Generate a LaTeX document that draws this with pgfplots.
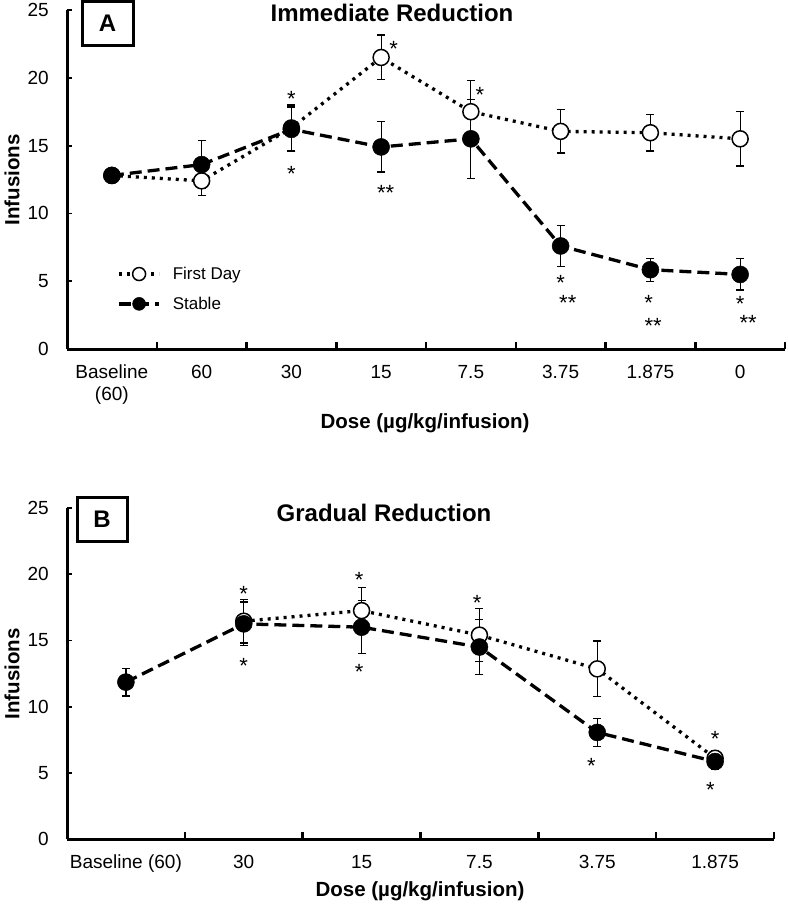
\documentclass[border=0pt]{standalone}
\usepackage{pgfplots}
\usepackage{pgfplotstable}
\pgfplotsset{compat=1.18}
\usepackage{fontspec}
\setmainfont{Liberation Sans}

\pgfplotstableread{
x y e
0 12.8 0
1 12.4 1.1
2 16.3 1.7
3 21.5 1.65
4 17.5 2.3
5 16.05 1.6
6 15.95 1.35
7 15.5 2.0
}\fdA
\pgfplotstableread{
x y e
0 12.8 0
1 13.6 1.75
2 16.2 1.65
3 14.9 1.85
4 15.5 2.9
5 7.6 1.5
6 5.85 0.85
7 5.5 1.15
}\stA
\pgfplotstableread{
x y e
1 16.45 1.65
2 17.25 1.75
3 15.4 2.0
4 12.85 2.1
5 6.1 0.55
}\fdB
\pgfplotstableread{
x y e
0 11.85 1.05
1 16.25 1.65
2 16.0 2.0
3 14.5 2.1
4 8.05 1.05
5 5.85 0.6
}\stB

\tikzset{ast/.style={font=\fontsize{22}{24}\selectfont, inner sep=0pt, yshift=-5pt}}
\pgfplotsset{
  panel/.style={
    scale only axis, clip=false,
    axis x line*=bottom, axis y line*=left,
    axis line style={line width=3pt, black},
    ymin=0, ymax=25, ytick={0,5,...,25},
    xmin=-0.5,
    /pgf/number format/assume math mode=true,
    tick label style={font=\fontsize{19}{22}\selectfont},
    tick align=inside, major tick length=5pt,
    ytick style={line width=1.8pt, black},
    xtick style={draw=none},
    yticklabel style={inner sep=0pt, xshift=-18pt},
    xticklabel style={inner sep=0pt, yshift=-16pt, align=center},
    extra x tick labels={},
    extra x tick style={xtick style={draw=black, line width=2.5pt}, major tick length=7pt},
    legend image code/.code={\draw[mark repeat=2,mark phase=2,#1, mark size=6.5pt] plot coordinates {(0pt,0pt) (20pt,0pt) (40pt,0pt)};},
  },
  fd/.style={black, line width=3.3pt, dash pattern=on 3pt off 5pt, line cap=butt,
    mark=*, mark size=8pt, mark options={solid, line width=1.5pt, fill=white, draw=black},
    error bars/.cd, y dir=both, y explicit,
    error bar style={line width=1.2pt, solid, line cap=butt},
    error mark options={rotate=90, mark size=4pt, line width=1.2pt, solid}},
  st/.style={black, line width=3.3pt, dash pattern=on 12pt off 6pt, line cap=butt,
    mark=*, mark size=8.5pt, mark options={solid, line width=0.5pt, fill=black, draw=black},
    error bars/.cd, y dir=both, y explicit,
    error bar style={line width=1.2pt, solid, line cap=butt},
    error mark options={rotate=90, mark size=4pt, line width=1.2pt, solid}},
}

\begin{document}
\begin{tikzpicture}
\path[use as bounding box] (0pt,0pt) rectangle (788pt,-905pt);

% Panel A
\begin{axis}[panel, at={(67pt,-349pt)}, anchor=south west,
  width=718pt, height=339pt, xmax=7.5,
  xtick={0,...,7},
  xticklabels={{Baseline\\(60)},60,30,15,7.5,3.75,1.875,0},
  extra x ticks={-0.5,0.5,...,7.5},
  legend style={draw=none, fill=none, font=\fontsize{17}{20}\selectfont,
    at={(axis cs:0.06,6.2)}, anchor=north west, row sep=12pt, inner sep=0pt,
    /tikz/every odd column/.append style={column sep=10pt}},
  legend cell align=left,
]
\addplot[fd] table[x=x,y=y,y error=e] {\fdA};
\addlegendentry{First Day}
\addplot[st] table[x=x,y=y,y error=e] {\stA};
\addlegendentry{Stable}
\node[ast] at (axis cs:2,18.8) {*};
\node[ast] at (axis cs:2,13.3) {*};
\node[ast] at (axis cs:3.14,22.5) {*};
\node[ast] at (axis cs:3.05,11.9) {**};
\node[ast] at (axis cs:4.1,19.1) {*};
\node[ast] at (axis cs:5.0,5.25) {*};
\node[ast] at (axis cs:5.08,3.8) {**};
\node[ast] at (axis cs:5.98,3.75) {*};
\node[ast] at (axis cs:6.03,2.1) {**};
\node[ast] at (axis cs:7.0,3.7) {*};
\node[ast] at (axis cs:7.09,2.3) {**};
\end{axis}

% Panel B
\begin{axis}[panel, at={(67pt,-839pt)}, anchor=south west,
  width=707pt, height=331pt, xmax=5.5,
  xtick={0,...,5},
  xticklabels={Baseline (60),30,15,7.5,3.75,1.875},
  extra x ticks={-0.5,0.5,...,5.5},
]
\addplot[fd] table[x=x,y=y,y error=e] {\fdB};
\addplot[st] table[x=x,y=y,y error=e] {\stB};
\node[ast] at (axis cs:1.0,18.88) {*};
\node[ast] at (axis cs:1.0,13.47) {*};
\node[ast] at (axis cs:1.98,19.96) {*};
\node[ast] at (axis cs:1.98,12.96) {*};
\node[ast] at (axis cs:2.98,18.2) {*};
\node[ast] at (axis cs:3.95,5.91) {*};
\node[ast] at (axis cs:5.0,7.93) {*};
\node[ast] at (axis cs:4.96,4.1) {*};
\end{axis}

% Titles, labels
\node[font=\fontsize{24}{28}\selectfont\bfseries] at (392pt,-13pt) {Immediate Reduction};
\node[font=\fontsize{24}{28}\selectfont\bfseries] at (384pt,-513pt) {Gradual Reduction};
\node[draw, line width=3pt, minimum width=51pt, minimum height=44pt, inner sep=0pt,
  font=\fontsize{24}{28}\selectfont\bfseries] at (107.5pt,-23pt) {A};
\node[draw, line width=3pt, minimum width=50pt, minimum height=44pt, inner sep=0pt,
  font=\fontsize{24}{28}\selectfont\bfseries] at (102pt,-519pt) {B};
\node[font=\fontsize{20.5}{24}\selectfont\bfseries] at (425pt,-423pt) {Dose (µg/kg/infusion)};
\node[font=\fontsize{20.5}{24}\selectfont\bfseries] at (420pt,-891pt) {Dose (µg/kg/infusion)};
\node[font=\fontsize{20.5}{24}\selectfont\bfseries, rotate=90] at (12pt,-180pt) {Infusions};
\node[font=\fontsize{20.5}{24}\selectfont\bfseries, rotate=90] at (12pt,-674pt) {Infusions};
\end{tikzpicture}
\end{document}
